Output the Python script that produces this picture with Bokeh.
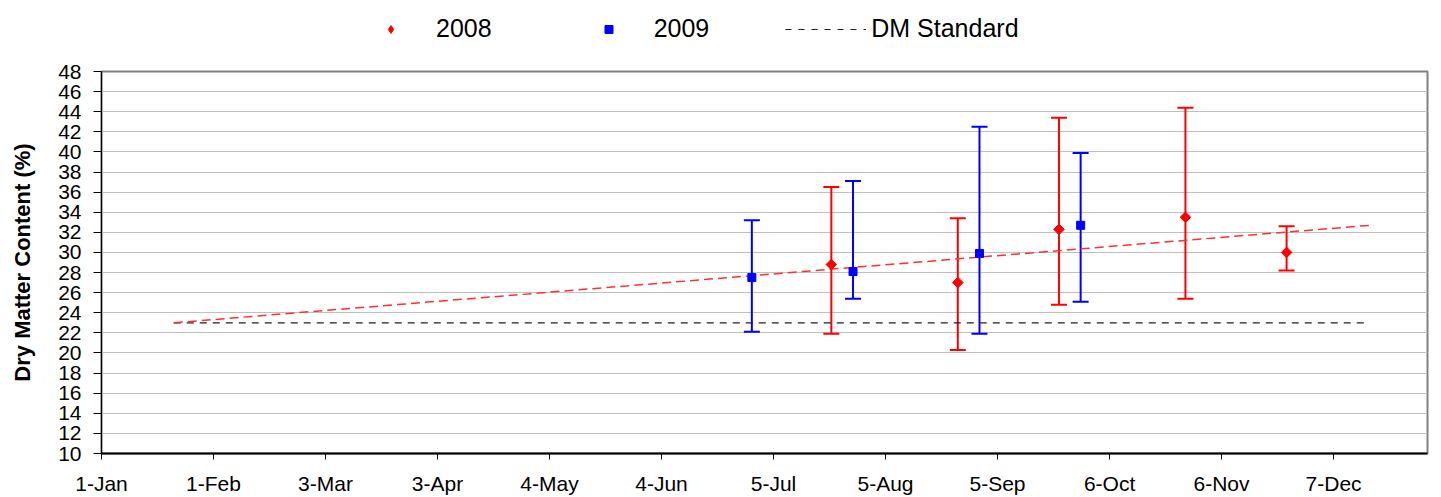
import numpy as np
import pandas as pd
from bokeh.plotting import figure
from bokeh.layouts import column
from bokeh.models import (ColumnDataSource, Range1d, FixedTicker, Whisker, TeeHead,
                          Legend, LegendItem)
from bokeh.embed import file_html
from bokeh.resources import INLINE

# ---------------- data ----------------
dates_2008 = ["07-21", "08-25", "09-22", "10-27", "11-24"]
dm_2008 = [28.8, 27.0, 32.3, 33.5, 30.0]
upper_2008 = [36.5, 33.4, 43.4, 44.4, 32.6]
lower_2008 = [21.9, 20.3, 24.8, 25.4, 28.2]

dates_2009 = ["06-29", "07-27", "08-31", "09-28"]
dm_2009 = [27.5, 28.1, 29.9, 32.7]
upper_2009 = [33.2, 37.1, 42.5, 39.9]
lower_2009 = [22.1, 25.4, 21.9, 25.1]

standard_dates = ["01-21", "12-17"]
standard_vals = [23.0, 23.0]

trend_dates = ["01-21", "12-17"]
trend_vals = [23.0, 32.7]

tick_dates = ["01-01", "02-01", "03-03", "04-03", "05-04", "06-04",
              "07-05", "08-05", "09-05", "10-06", "11-06", "12-07"]
tick_labels = ["1-Jan", "1-Feb", "3-Mar", "3-Apr", "4-May", "4-Jun",
               "5-Jul", "5-Aug", "5-Sep", "6-Oct", "6-Nov", "7-Dec"]
y_ticks = list(range(10, 49, 2))

series_names = ["2008", "2009", "DM Standard"]

# day offset on the (leap-year) annual date axis
def day_of(md_list):
    base = pd.Timestamp("2008-01-01")
    return [int((pd.Timestamp("2008-" + md) - base).days) for md in md_list]

FONT = "Liberation Sans"
RED = "#FF0000"
BLUE = "#0000FF"
STD_COL = "#202020"

LEG_H = 50

p = figure(width=1441, height=497 - LEG_H, output_backend="svg", toolbar_location=None,
           x_range=Range1d(0, 367), y_range=Range1d(10, 48),
           min_border_left=101, min_border_right=14, min_border_top=71 - LEG_H,
           min_border_bottom=42)
p.background_fill_color = "white"
p.border_fill_color = "white"
p.outline_line_color = "#808080"
p.outline_line_width = 2

# axes
p.xaxis.ticker = FixedTicker(ticks=day_of(tick_dates))
p.xaxis.major_label_overrides = {d: l for d, l in zip(day_of(tick_dates), tick_labels)}
p.yaxis.ticker = FixedTicker(ticks=y_ticks)
for ax in (p.xaxis[0], p.yaxis[0]):
    ax.axis_line_color = "black"
    ax.major_tick_line_color = "black"
    ax.minor_tick_line_color = None
    ax.major_tick_in = 0
    ax.major_label_text_font = FONT
    ax.major_label_text_font_size = "21px"
    ax.major_label_text_color = "black"
p.xaxis.axis_line_width = 2
p.yaxis.axis_line_width = 1.2
p.xaxis.major_tick_out = 6
p.yaxis.major_tick_out = 8
p.xaxis.major_label_standoff = 12
p.yaxis.major_label_standoff = 12
p.yaxis.axis_label = "Dry Matter Content (%)"
p.yaxis.axis_label_text_font = FONT
p.yaxis.axis_label_text_font_style = "bold"
p.yaxis.axis_label_text_font_size = "22px"
p.yaxis.axis_label_text_color = "black"
p.yaxis.axis_label_standoff = 20

p.xgrid.visible = False
p.ygrid.grid_line_color = "#C0C0C0"
p.ygrid.grid_line_width = 1

# standard and trend lines
p.line(day_of(standard_dates), standard_vals, line_color=STD_COL,
       line_width=1.2, line_dash="7 6")
p.line(day_of(trend_dates), trend_vals, line_color="#FF3030",
       line_width=1.5, line_dash="9 5")

# error bars
src08 = ColumnDataSource(dict(x=day_of(dates_2008), y=dm_2008,
                              upper=upper_2008, lower=lower_2008))
src09 = ColumnDataSource(dict(x=day_of(dates_2009), y=dm_2009,
                              upper=upper_2009, lower=lower_2009))
for src, col in ((src08, RED), (src09, BLUE)):
    w = Whisker(source=src, base="x", upper="upper", lower="lower",
                line_color=col, line_width=2,
                upper_head=TeeHead(size=16, line_color=col, line_width=2),
                lower_head=TeeHead(size=16, line_color=col, line_width=2))
    p.add_layout(w)

p.scatter("x", "y", source=src08, marker="square", angle=np.pi / 4,
          size=7.5, fill_color=RED, line_color=RED)
p.scatter("x", "y", source=src09, marker="square", size=8,
          fill_color=BLUE, line_color=BLUE)

# ---------------- legend strip above the chart ----------------
lf = figure(width=1441, height=LEG_H, output_backend="svg", toolbar_location=None,
            x_range=Range1d(0, 1), y_range=Range1d(0, 1),
            x_axis_location=None, y_axis_location=None, min_border=0)
lf.grid.visible = False
lf.outline_line_color = None
lf.background_fill_color = "white"
lf.border_fill_color = "white"
# proxy renderers (kept outside the visible range) that only feed the legend
l08 = lf.scatter([-5], [-5], marker="diamond", size=12,
                 fill_color=RED, line_color=RED)
l09 = lf.scatter([-5], [-5], marker="square", size=8, fill_color=BLUE, line_color=BLUE)
lstd = lf.line([-5, -4], [-5, -5], line_color=STD_COL, line_width=1.2, line_dash="6 7")

legend = Legend(items=[LegendItem(label=series_names[0], renderers=[l08]),
                       LegendItem(label=series_names[1], renderers=[l09]),
                       LegendItem(label=series_names[2], renderers=[lstd])],
                orientation="horizontal", location=(249, 7),
                glyph_width=81, glyph_height=20, label_standoff=5, spacing=76,
                padding=0, margin=0,
                label_text_font=FONT, label_text_font_size="25px",
                label_text_color="black",
                border_line_color=None, background_fill_alpha=0)
lf.add_layout(legend)

layout = column(lf, p, spacing=0)
open("out.html", "w").write(file_html(layout, INLINE))
